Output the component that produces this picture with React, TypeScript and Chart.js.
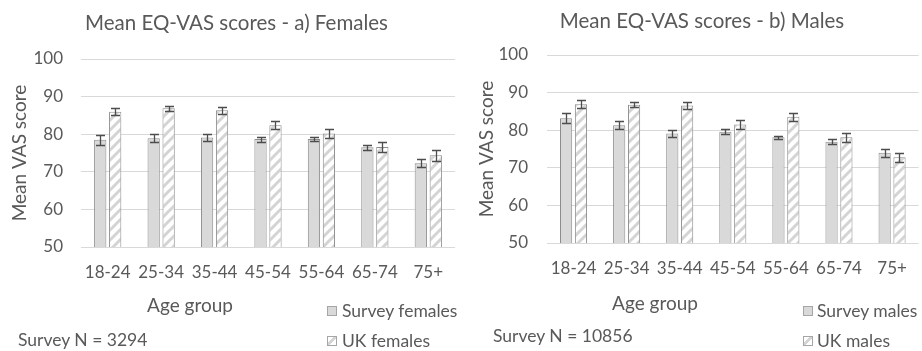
import React, { useEffect, useRef } from 'react';
import { Chart, registerables } from 'chart.js';

Chart.register(...registerables);

// ---------- data ----------
const categories = ['18-24', '25-34', '35-44', '45-54', '55-64', '65-74', '75+'];
const yTicks = [50, 60, 70, 80, 90, 100];

const femaleSurvey = [78.5, 78.9, 79.1, 78.7, 78.7, 76.5, 72.3];
const femaleSurveyErr = [1.3, 1.1, 1.0, 0.65, 0.45, 0.7, 1.15];
const femaleUK = [86.0, 86.9, 86.4, 82.4, 80.2, 76.6, 74.4];
const femaleUKErr = [1.0, 0.7, 0.9, 1.1, 1.1, 1.25, 1.4];

const maleSurvey = [83.2, 81.3, 79.1, 79.6, 78.1, 76.9, 74.0];
const maleSurveyErr = [1.4, 1.1, 1.0, 0.65, 0.45, 0.7, 1.05];
const maleUK = [86.9, 86.8, 86.6, 81.5, 83.6, 78.1, 72.8];
const maleUKErr = [1.0, 0.7, 0.9, 1.15, 1.1, 1.2, 1.25];

// ---------- style ----------
const FONT = 'Lato, "DejaVu Sans", sans-serif';
const TEXT = '#595959';
const BAR_FILL = '#d9d9d9';
const BAR_BORDER = '#8c8c8c';
const GRID = '#d9d9d9';
const ERR = '#4d4d4d';

function makeHatch(): CanvasPattern | string {
  const c = document.createElement('canvas');
  c.width = 10;
  c.height = 10;
  const g = c.getContext('2d');
  if (!g) return '#ffffff';
  g.fillStyle = '#ffffff';
  g.fillRect(0, 0, 10, 10);
  g.strokeStyle = '#d4d4d4';
  g.lineWidth = 3;
  g.beginPath();
  g.moveTo(-5, 5);
  g.lineTo(5, -5);
  g.moveTo(0, 10);
  g.lineTo(10, 0);
  g.moveTo(5, 15);
  g.lineTo(15, 5);
  g.stroke();
  return g.createPattern(c, 'repeat') || '#ffffff';
}

const errorBarPlugin = {
  id: 'errorBars',
  afterDatasetsDraw(chart: any) {
    const ctx = chart.ctx;
    const y = chart.scales.y;
    ctx.save();
    ctx.strokeStyle = ERR;
    ctx.lineWidth = 1.3;
    chart.data.datasets.forEach((ds: any, i: number) => {
      const errs: number[] | undefined = ds.errors;
      if (!errs) return;
      chart.getDatasetMeta(i).data.forEach((bar: any, j: number) => {
        const v = ds.data[j] as number;
        const e = errs[j];
        const top = Math.round(y.getPixelForValue(v + e)) + 0.5;
        const bot = Math.round(y.getPixelForValue(v - e)) + 0.5;
        const x = Math.round(bar.x) + 0.5;
        const cap = 4.5;
        ctx.beginPath();
        ctx.moveTo(x, top);
        ctx.lineTo(x, bot);
        ctx.moveTo(x - cap, top);
        ctx.lineTo(x + cap, top);
        ctx.moveTo(x - cap, bot);
        ctx.lineTo(x + cap, bot);
        ctx.stroke();
      });
    });
    ctx.restore();
  },
};

type Area = { left: number; right: number; top: number; bottom: number };

type PanelProps = {
  x: number;
  width: number;
  height: number;
  area: Area;
  survey: number[];
  surveyErr: number[];
  uk: number[];
  ukErr: number[];
  surveyLabel: string;
  ukLabel: string;
  yTitleCenter: number;
  yTickGap: number;
};

function Panel(p: PanelProps) {
  const ref = useRef<HTMLCanvasElement | null>(null);
  useEffect(() => {
    if (!ref.current) return;
    const hatch = makeHatch();
    const yTitleSize = 19;
    const chart = new Chart(ref.current, {
      type: 'bar',
      data: {
        labels: categories,
        datasets: [
          {
            label: p.surveyLabel,
            data: p.survey,
            backgroundColor: BAR_FILL,
            borderColor: BAR_BORDER,
            borderWidth: 1,
            categoryPercentage: 0.56,
            barPercentage: 0.82,
            errors: p.surveyErr,
          } as any,
          {
            label: p.ukLabel,
            data: p.uk,
            backgroundColor: hatch as any,
            borderColor: BAR_BORDER,
            borderWidth: 1,
            categoryPercentage: 0.56,
            barPercentage: 0.82,
            errors: p.ukErr,
          } as any,
        ],
      },
      options: {
        responsive: false,
        maintainAspectRatio: false,
        animation: false,
        layout: {
          padding: { left: 0, right: p.width - p.area.right, top: p.area.top, bottom: 0 },
        },
        plugins: {
          legend: { display: false },
          title: { display: false },
          tooltip: { enabled: false },
        },
        scales: {
          x: {
            grid: { display: false, drawTicks: false },
            border: { display: false },
            ticks: { color: TEXT, font: { family: FONT, size: 17 }, padding: 15 },
            afterFit: (s: any) => {
              s.height = p.height - p.area.bottom;
            },
          },
          y: {
            min: 50,
            max: 100,
            afterBuildTicks: (s: any) => {
              s.ticks = yTicks.map((v) => ({ value: v }));
            },
            ticks: { color: TEXT, font: { family: FONT, size: 17 }, padding: p.yTickGap },
            grid: { color: GRID, lineWidth: 1, drawTicks: false },
            border: { display: false },
            title: {
              display: true,
              text: 'Mean VAS score',
              color: TEXT,
              font: { family: FONT, size: yTitleSize },
              padding: { top: p.yTitleCenter - (yTitleSize * 1.2) / 2, bottom: 0 },
            },
            afterFit: (s: any) => {
              s.width = p.area.left;
            },
          },
        },
      } as any,
      plugins: [errorBarPlugin],
    });
    return () => chart.destroy();
  }, []);
  return (
    <canvas
      ref={ref}
      width={p.width}
      height={p.height}
      style={{ position: 'absolute', left: p.x, top: 0, width: p.width, height: p.height }}
    />
  );
}

function Txt(props: { x: number; y: number; size: number; center?: boolean; children: React.ReactNode }) {
  const { x, y, size, center, children } = props;
  return (
    <span
      style={{
        position: 'absolute',
        left: x,
        top: y - 0.529 * size,
        fontFamily: FONT,
        fontSize: size,
        lineHeight: `${size}px`,
        color: TEXT,
        whiteSpace: 'nowrap',
        transform: center ? 'translateX(-50%)' : undefined,
      }}
    >
      {children}
    </span>
  );
}

function Marker(props: { x: number; y: number; hatch?: boolean }) {
  return (
    <span
      style={{
        position: 'absolute',
        left: props.x,
        top: props.y,
        width: 10,
        height: 10,
        boxSizing: 'border-box',
        border: '1px solid #a6a6a6',
        background: props.hatch
          ? 'repeating-linear-gradient(135deg, #ffffff 0px, #ffffff 4px, #d4d4d4 4px, #d4d4d4 7px)'
          : BAR_FILL,
      }}
    />
  );
}

export default function App() {
  return (
    <div
      style={{
        position: 'absolute',
        left: 0,
        top: 0,
        width: 922,
        height: 351,
        background: '#ffffff',
        overflow: 'hidden',
      }}
    >
      <Panel
        x={0}
        width={461}
        height={351}
        area={{ left: 81, right: 455, top: 59, bottom: 247 }}
        survey={femaleSurvey}
        surveyErr={femaleSurveyErr}
        uk={femaleUK}
        ukErr={femaleUKErr}
        surveyLabel="Survey females"
        ukLabel="UK females"
        yTitleCenter={20}
        yTickGap={18}
      />
      <Panel
        x={461}
        width={461}
        height={351}
        area={{ left: 86, right: 459, top: 55, bottom: 243 }}
        survey={maleSurvey}
        surveyErr={maleSurveyErr}
        uk={maleUK}
        ukErr={maleUKErr}
        surveyLabel="Survey males"
        ukLabel="UK males"
        yTitleCenter={26}
        yTickGap={19}
      />

      <Txt x={236.5} y={23} size={20.5} center>
        Mean EQ-VAS scores - a) Females
      </Txt>
      <Txt x={702} y={21} size={20.5} center>
        Mean EQ-VAS scores - b) Males
      </Txt>

      <Txt x={190} y={305} size={19} center>
        Age group
      </Txt>
      <Txt x={655} y={303} size={19} center>
        Age group
      </Txt>

      <Marker x={327} y={306} />
      <Txt x={342} y={311} size={17.5}>
        Survey females
      </Txt>
      <Marker x={327} y={336} hatch />
      <Txt x={342} y={341} size={17.5}>
        UK females
      </Txt>

      <Marker x={803} y={306} />
      <Txt x={817} y={311} size={17.5}>
        Survey males
      </Txt>
      <Marker x={803} y={336} hatch />
      <Txt x={817} y={341} size={17.5}>
        UK males
      </Txt>

      <Txt x={18} y={340.5} size={17.5}>
        Survey N = 3294
      </Txt>
      <Txt x={493} y={336} size={17.5}>
        Survey N = 10856
      </Txt>
    </div>
  );
}
